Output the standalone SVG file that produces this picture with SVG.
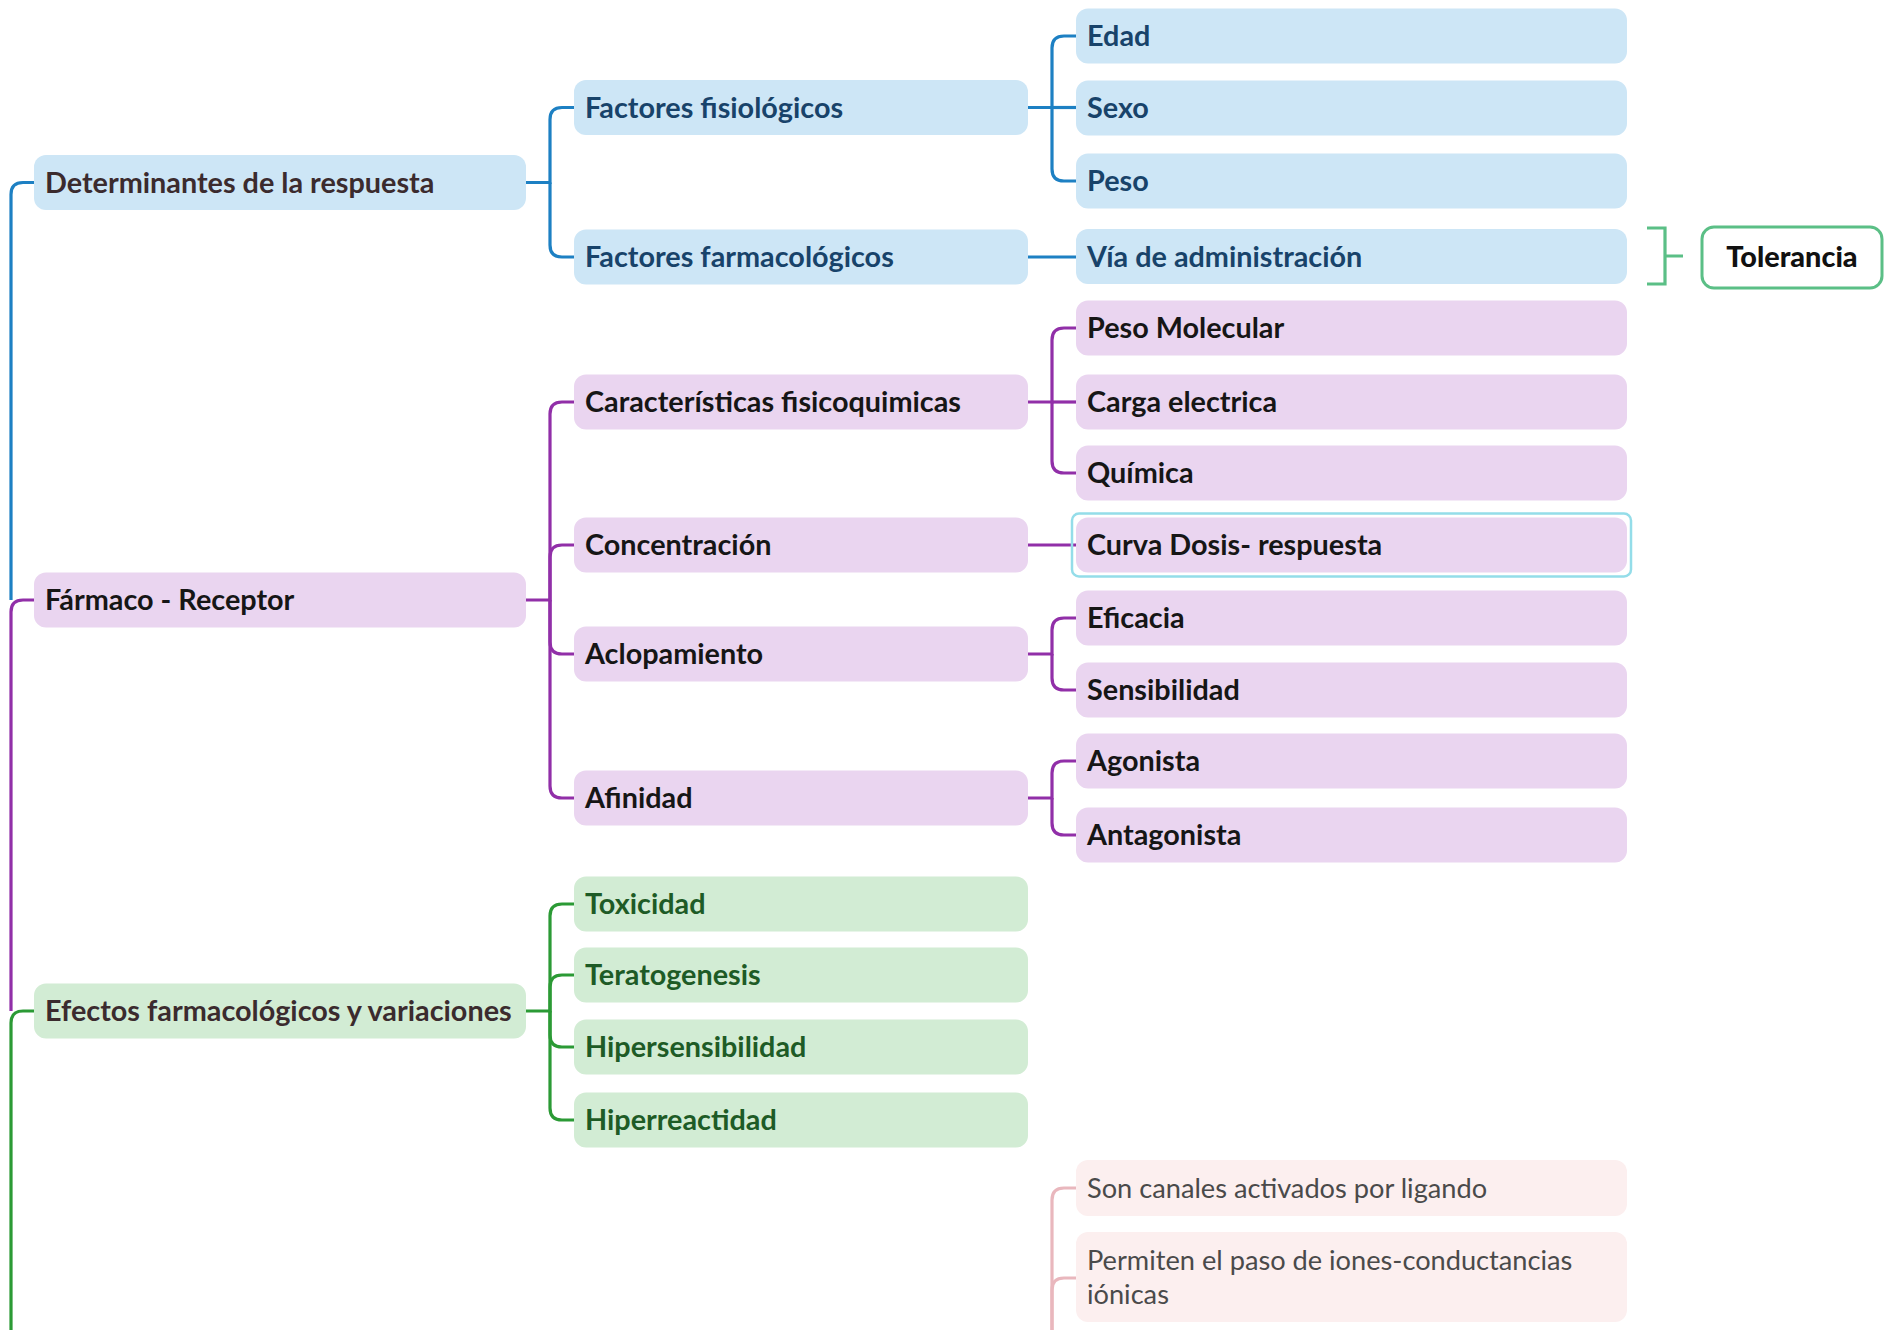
<svg xmlns="http://www.w3.org/2000/svg" width="1892" height="1330" viewBox="0 0 1892 1330">
<style>
text{font-family:"Lato","Liberation Sans",sans-serif;font-size:28.8px;font-weight:700}
.b rect{fill:#cde6f6}
.p rect{fill:#ead5f0}
.g rect{fill:#d2ecd4}
.k rect{fill:#fcefef}
.tb{fill:#18436a}
.tp{fill:#161616}
.tg{fill:#1e5b26}
.tk{fill:#4a4a4a;font-weight:400;font-size:27.2px}
.tr{fill:#3b2b2e}
.cb{stroke:#1d80c3}
.cp{stroke:#912fa8}
.cg{stroke:#2b9a35}
.ck{stroke:#e9b7bd}
#connectors path{fill:none;stroke-width:3.2}
</style>
<rect width="1892" height="1330" fill="#ffffff"/>
<g id="connectors">
<path class="cb" d="M34 182.5H23Q11 182.5 11 194.5V600"/>
<path class="cp" d="M34 600H23Q11 600 11 612V1011"/>
<path class="cg" d="M34 1011H23Q11 1011 11 1023V1330"/>
<path class="cb" d="M526 182.5H550V119.5Q550 107.5 562 107.5H574"/>
<path class="cb" d="M550 182.5V245Q550 257 562 257H574"/>
<path class="cp" d="M526 600H550V414Q550 402 562 402H574"/>
<path class="cp" d="M550 600V557Q550 545 562 545H574"/>
<path class="cp" d="M550 600V642Q550 654 562 654H574"/>
<path class="cp" d="M550 600V786Q550 798 562 798H574"/>
<path class="cg" d="M526 1011H550V916Q550 904 562 904H574"/>
<path class="cg" d="M550 1011V987Q550 975 562 975H574"/>
<path class="cg" d="M550 1011V1035Q550 1047 562 1047H574"/>
<path class="cg" d="M550 1011V1108Q550 1120 562 1120H574"/>
<path class="cb" d="M1028 107.5H1052V48Q1052 36 1064 36H1076"/>
<path class="cb" d="M1052 107.5H1076"/>
<path class="cb" d="M1052 107.5V169Q1052 181 1064 181H1076"/>
<path class="cb" d="M1028 257H1076"/>
<path class="cp" d="M1028 402H1052V340Q1052 328 1064 328H1076"/>
<path class="cp" d="M1052 402H1076"/>
<path class="cp" d="M1052 402V461Q1052 473 1064 473H1076"/>
<path class="cp" d="M1028 545H1076"/>
<path class="cp" d="M1028 654H1052V630Q1052 618 1064 618H1076"/>
<path class="cp" d="M1052 654V678Q1052 690 1064 690H1076"/>
<path class="cp" d="M1028 798H1052V773Q1052 761 1064 761H1076"/>
<path class="cp" d="M1052 798V823Q1052 835 1064 835H1076"/>
<path class="ck" d="M1052 1330V1200Q1052 1188 1064 1188H1076"/>
<path class="ck" d="M1052 1330V1290Q1052 1278 1064 1278H1076"/>
<path stroke="#5bbf86" stroke-width="2.5" d="M1647 228H1665V284H1647M1665 256H1683"/>
</g>
<g id="n-det" class="b"><rect x="34" y="155" width="492" height="55" rx="12"/><text x="45" y="192.5" class="tr">Determinantes de la respuesta</text></g>
<g id="n-far" class="p"><rect x="34" y="572.5" width="492" height="55" rx="12"/><text x="45" y="610" class="tp">Fármaco - Receptor</text></g>
<g id="n-efe" class="g"><rect x="34" y="983.5" width="492" height="55" rx="12"/><text x="45" y="1021" class="tr">Efectos farmacológicos y variaciones</text></g>
<g id="n-ffis" class="b"><rect x="574" y="80" width="454" height="55" rx="12"/><text x="585" y="117.5" class="tb">Factores fisiológicos</text></g>
<g id="n-ffar" class="b"><rect x="574" y="229.5" width="454" height="55" rx="12"/><text x="585" y="267" class="tb">Factores farmacológicos</text></g>
<g id="n-car" class="p"><rect x="574" y="374.5" width="454" height="55" rx="12"/><text x="585" y="412" class="tp">Características fisicoquimicas</text></g>
<g id="n-con" class="p"><rect x="574" y="517.5" width="454" height="55" rx="12"/><text x="585" y="555" class="tp">Concentración</text></g>
<g id="n-acl" class="p"><rect x="574" y="626.5" width="454" height="55" rx="12"/><text x="585" y="664" class="tp">Aclopamiento</text></g>
<g id="n-afi" class="p"><rect x="574" y="770.5" width="454" height="55" rx="12"/><text x="585" y="808" class="tp">Afinidad</text></g>
<g id="n-tox" class="g"><rect x="574" y="876.5" width="454" height="55" rx="12"/><text x="585" y="914" class="tg">Toxicidad</text></g>
<g id="n-ter" class="g"><rect x="574" y="947.5" width="454" height="55" rx="12"/><text x="585" y="985" class="tg">Teratogenesis</text></g>
<g id="n-hips" class="g"><rect x="574" y="1019.5" width="454" height="55" rx="12"/><text x="585" y="1057" class="tg">Hipersensibilidad</text></g>
<g id="n-hipr" class="g"><rect x="574" y="1092.5" width="454" height="55" rx="12"/><text x="585" y="1130" class="tg">Hiperreactidad</text></g>
<g id="n-edad" class="b"><rect x="1076" y="8.5" width="551" height="55" rx="12"/><text x="1087" y="46" class="tb">Edad</text></g>
<g id="n-sexo" class="b"><rect x="1076" y="80.5" width="551" height="55" rx="12"/><text x="1087" y="118" class="tb">Sexo</text></g>
<g id="n-peso" class="b"><rect x="1076" y="153.5" width="551" height="55" rx="12"/><text x="1087" y="191" class="tb">Peso</text></g>
<g id="n-via" class="b"><rect x="1076" y="229" width="551" height="55" rx="12"/><text x="1087" y="266.5" class="tb">Vía de administración</text></g>
<g id="n-tol"><rect x="1702" y="227" width="180" height="61" rx="12" fill="#ffffff" stroke="#5bbf86" stroke-width="3"/><text x="1792" y="267" text-anchor="middle" fill="#111111" style="font-weight:900">Tolerancia</text></g>
<g id="n-pm" class="p"><rect x="1076" y="300.5" width="551" height="55" rx="12"/><text x="1087" y="338" class="tp">Peso Molecular</text></g>
<g id="n-carga" class="p"><rect x="1076" y="374.5" width="551" height="55" rx="12"/><text x="1087" y="412" class="tp">Carga electrica</text></g>
<g id="n-quim" class="p"><rect x="1076" y="445.5" width="551" height="55" rx="12"/><text x="1087" y="483" class="tp">Química</text></g>
<g id="n-curva" class="p"><rect x="1076" y="517.5" width="551" height="55" rx="12"/><rect x="1072" y="513.5" width="559" height="63" rx="7" style="fill:none;stroke:#94dde9;stroke-width:2.5"/><text x="1087" y="555" class="tp">Curva Dosis- respuesta</text></g>
<g id="n-efic" class="p"><rect x="1076" y="590.5" width="551" height="55" rx="12"/><text x="1087" y="628" class="tp">Eficacia</text></g>
<g id="n-sens" class="p"><rect x="1076" y="662.5" width="551" height="55" rx="12"/><text x="1087" y="700" class="tp">Sensibilidad</text></g>
<g id="n-agon" class="p"><rect x="1076" y="733.5" width="551" height="55" rx="12"/><text x="1087" y="771" class="tp">Agonista</text></g>
<g id="n-antag" class="p"><rect x="1076" y="807.5" width="551" height="55" rx="12"/><text x="1087" y="845" class="tp">Antagonista</text></g>
<g id="n-son" class="k"><rect x="1076" y="1160" width="551" height="56" rx="12"/><text x="1087" y="1198" class="tk">Son canales activados por ligando</text></g>
<g id="n-perm" class="k"><rect x="1076" y="1232" width="551" height="90" rx="12"/><text x="1087" y="1270" class="tk">Permiten el paso de iones-conductancias</text><text x="1087" y="1304" class="tk">iónicas</text></g>
</svg>
